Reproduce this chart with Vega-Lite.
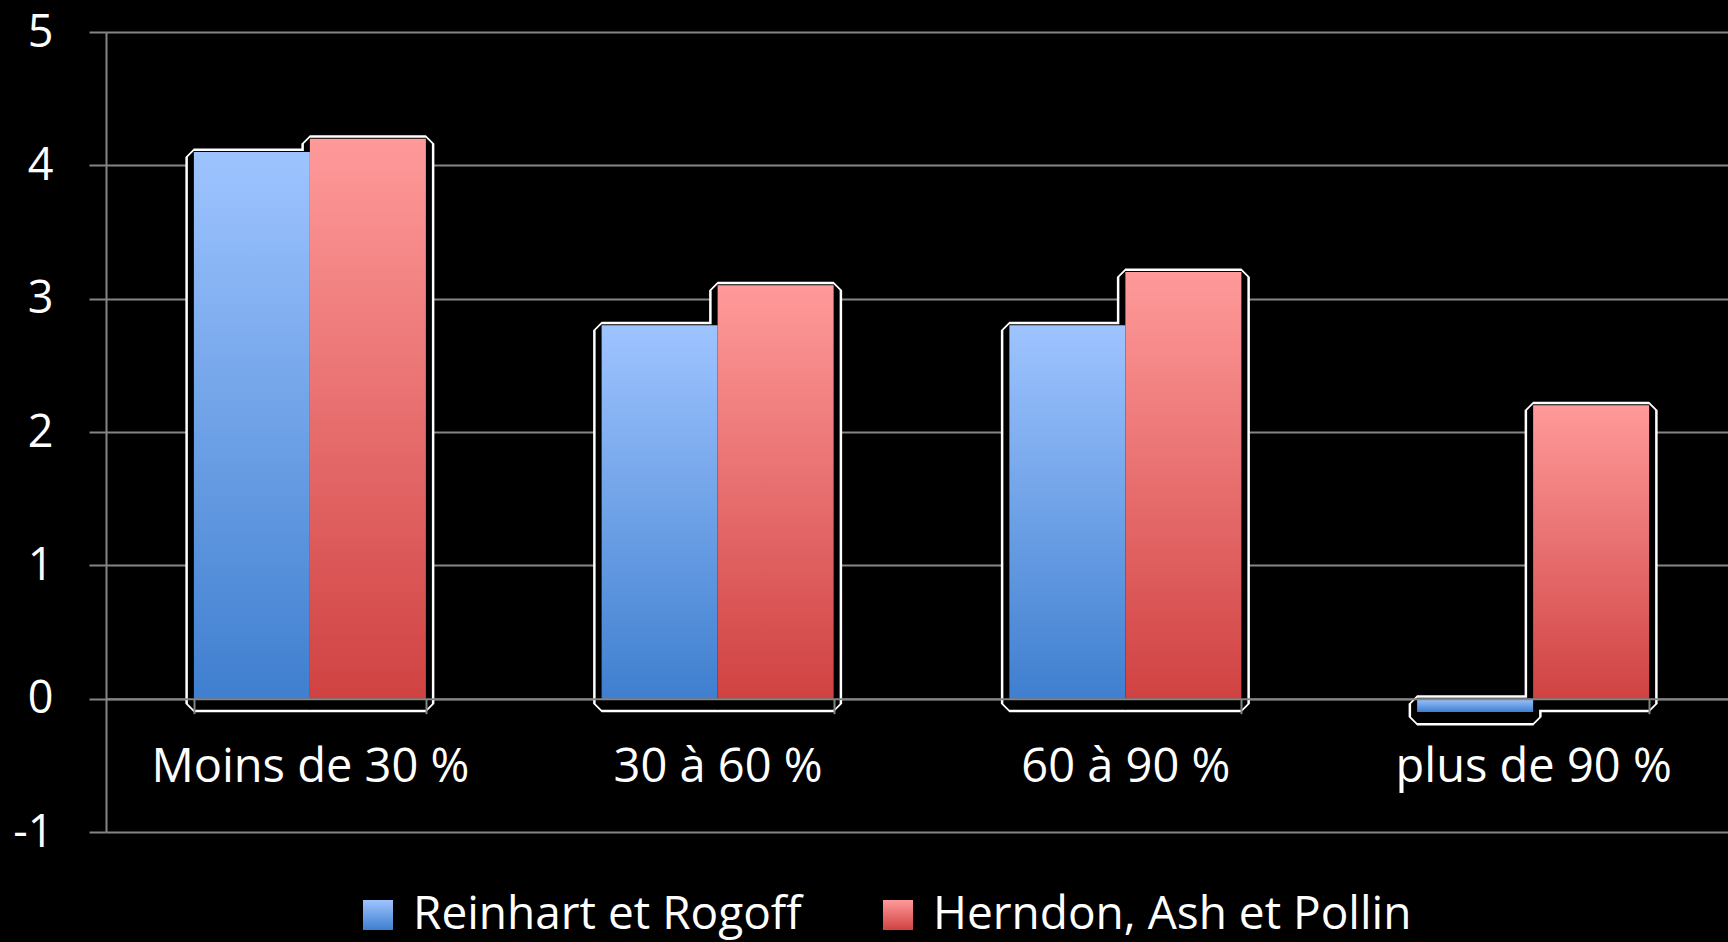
{
  "$schema": "https://vega.github.io/schema/vega-lite/v6.json",
  "width": 1622,
  "height": 800,
  "autosize": {"type": "none"},
  "padding": {"left": 106, "top": 32, "right": 0, "bottom": 110},
  "background": "black",
  "config": {"view": {"stroke": null}, "font": "Open Sans"},
  "data": {
    "values": [
      {"cat": "Moins de 30 %", "serie": "Reinhart et Rogoff", "value": 4.1},
      {"cat": "Moins de 30 %", "serie": "Herndon, Ash et Pollin", "value": 4.2},
      {"cat": "30 à 60 %", "serie": "Reinhart et Rogoff", "value": 2.8},
      {"cat": "30 à 60 %", "serie": "Herndon, Ash et Pollin", "value": 3.1},
      {"cat": "60 à 90 %", "serie": "Reinhart et Rogoff", "value": 2.8},
      {"cat": "60 à 90 %", "serie": "Herndon, Ash et Pollin", "value": 3.2},
      {"cat": "plus de 90 %", "serie": "Reinhart et Rogoff", "value": -0.1},
      {"cat": "plus de 90 %", "serie": "Herndon, Ash et Pollin", "value": 2.2}
    ]
  },
  "encoding": {
    "x": {
      "field": "cat",
      "type": "nominal",
      "sort": null,
      "scale": {"paddingInner": 0.431, "paddingOuter": 0.2155, "range": [0, 1631]},
      "axis": {
        "title": null,
        "orient": "bottom",
        "offset": -133.33,
        "tickBand": "extent",
        "ticks": true,
        "domainColor": "#858585",
        "domainWidth": 2,
        "tickColor": "#858585",
        "tickWidth": 2,
        "tickSize": 15,
        "labelFontSize": 47,
        "labelFont": "Open Sans",
        "labelColor": "white",
        "labelPadding": 31,
        "labelAngle": 0,
        "labelLimit": 0,
        "grid": false,
        "zindex": 1
      }
    },
    "xOffset": {"field": "serie", "type": "nominal", "sort": null, "scale": {"paddingInner": 0, "paddingOuter": 0}},
    "y": {
      "field": "value",
      "type": "quantitative",
      "scale": {"domain": [-1, 5], "nice": false},
      "axis": {
        "title": null,
        "values": [-1, 0, 1, 2, 3, 4, 5],
        "labelExpr": "replace(datum.label, '\u2212', '-')",
        "domainColor": "#858585",
        "domainWidth": 2,
        "tickColor": "#858585",
        "tickWidth": 2,
        "tickSize": 17,
        "gridColor": "#858585",
        "gridWidth": 2,
        "labelFontSize": 45,
        "labelFont": "Open Sans",
        "labelColor": "white",
        "labelPadding": 36,
        "zindex": 0
      }
    }
  },
  "layer": [
    {
      "mark": {"type": "bar", "fill": "black", "stroke": "white", "strokeWidth": 17, "strokeJoin": "bevel"},
      "encoding": {"yOffset": {"value": 5}}
    },
    {
      "mark": {"type": "bar", "fill": "black", "stroke": "black", "strokeWidth": 12, "strokeJoin": "bevel"},
      "encoding": {"yOffset": {"value": 5}}
    },
    {
      "mark": {"type": "bar", "strokeWidth": 0},
      "encoding": {
        "color": {
          "field": "serie",
          "type": "nominal",
          "sort": null,
          "scale": {
            "domain": ["Reinhart et Rogoff", "Herndon, Ash et Pollin"],
            "range": [
              {"expr": "{gradient: 'linear', x1: 0, y1: 0, x2: 0, y2: 1, stops: [{offset: 0, color: '#9ec4ff'}, {offset: 1, color: '#3f7fcf'}]}"},
              {"expr": "{gradient: 'linear', x1: 0, y1: 0, x2: 0, y2: 1, stops: [{offset: 0, color: '#ff9a9a'}, {offset: 1, color: '#d04242'}]}"}
            ]
          },
          "legend": {
            "title": null,
            "orient": "none",
            "legendX": 249,
            "legendY": 860,
            "direction": "horizontal",
            "symbolType": "square",
            "symbolSize": 900,
            "symbolStrokeWidth": 0,
            "labelFontSize": 46,
            "labelFont": "Open Sans",
            "labelColor": "white",
            "labelLimit": 0,
            "columnPadding": 73,
            "labelOffset": 12
          }
        }
      }
    }
  ]
}
